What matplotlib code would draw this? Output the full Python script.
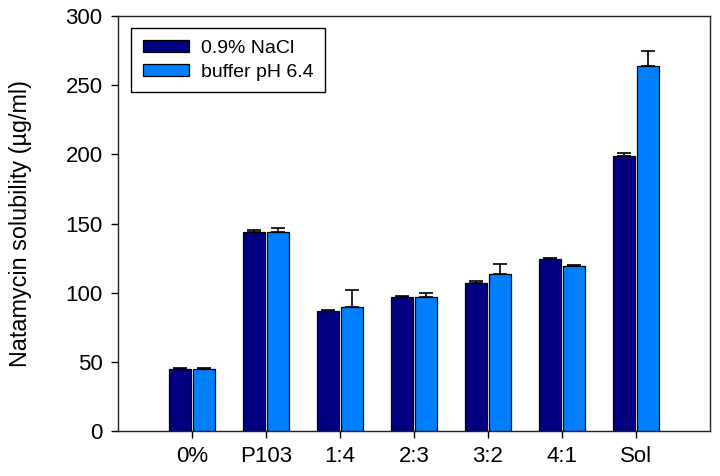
import numpy as np
import matplotlib
matplotlib.use("Agg")
import matplotlib.pyplot as plt

plt.rcParams["font.family"] = ["Liberation Sans", "DejaVu Sans"]

# Data
categories = ["0%", "P103", "1:4", "2:3", "3:2", "4:1", "Sol"]
nacl_mean = [44.5, 143.5, 87.0, 96.7, 107.0, 124.2, 198.9]
nacl_err = [1.3, 1.6, 0.4, 1.0, 1.7, 1.0, 2.0]
buffer_mean = [44.5, 143.5, 90.0, 97.2, 113.6, 119.4, 263.7]
buffer_err = [1.3, 3.5, 11.8, 2.4, 6.8, 0.5, 10.9]

C_NACL = "#000080"
C_BUF = "#0080ff"

fig = plt.figure(figsize=(7.2, 4.76), dpi=100)
ax = fig.add_axes([0.1639, 0.0945, 0.8222, 0.8719])

x = np.arange(1, len(categories) + 1)
w = 0.3
off = 0.165
ekw = dict(ecolor="black", elinewidth=1.2, capsize=4.7, capthick=1.2)
ax.bar(x - off, nacl_mean, w, yerr=[np.zeros(len(x)), nacl_err], color=C_NACL,
       edgecolor="black", linewidth=0.9, error_kw=ekw, label="0.9% NaCl")
ax.bar(x + off, buffer_mean, w, yerr=[np.zeros(len(x)), buffer_err], color=C_BUF,
       edgecolor="black", linewidth=0.9, error_kw=ekw, label="buffer pH 6.4")

ax.set_xlim(0, 8)
ax.set_ylim(0, 300)
ax.set_xticks(x)
ax.set_xticklabels(categories)
ax.set_yticks(np.arange(0, 301, 50))
ax.tick_params(axis="both", direction="out", length=5, width=1, labelsize=16, pad=6)
ax.set_ylabel("Natamycin solubility (µg/ml)", fontsize=16.8, labelpad=24)
for s in ax.spines.values():
    s.set_color("#222222")
    s.set_linewidth(1)

leg = ax.legend(loc="upper left", bbox_to_anchor=(0.022, 0.971), borderaxespad=0,
                fontsize=14, fancybox=False, edgecolor="black", framealpha=1,
                handlelength=2.4, handleheight=0.6, borderpad=0.6, labelspacing=0.35,
                handletextpad=0.6)
leg.get_frame().set_linewidth(1)

fig.savefig("out.png", dpi=100)
